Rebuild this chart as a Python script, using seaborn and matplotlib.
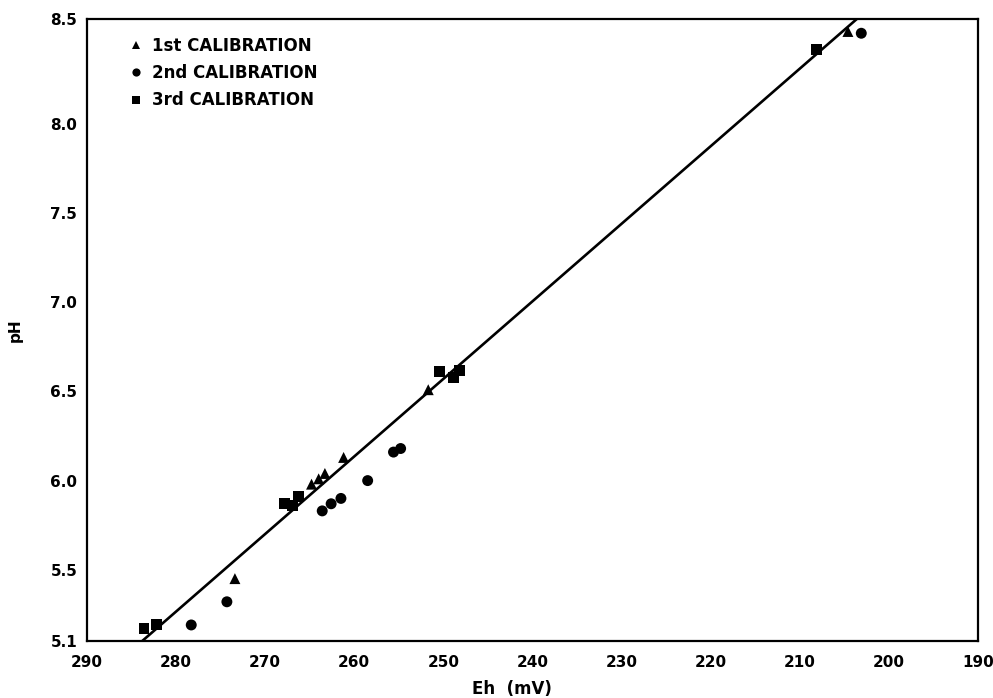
import numpy as np
import pandas as pd
import seaborn as sns
import matplotlib
matplotlib.use("Agg")
import matplotlib.pyplot as plt

# ---- data ----
cal1_eh = [273.4, 264.8, 264.0, 263.3, 261.2, 251.7, 204.6]
cal1_ph = [5.45, 5.98, 6.01, 6.04, 6.13, 6.51, 8.52]

cal2_eh = [278.3, 274.3, 263.6, 262.6, 261.5, 258.5, 255.6, 254.8, 203.1]
cal2_ph = [5.19, 5.32, 5.83, 5.87, 5.90, 6.00, 6.16, 6.18, 8.51]

cal3_eh = [283.6, 282.2, 267.8, 266.9, 266.3, 250.4, 248.9, 248.2, 208.1]
cal3_ph = [5.17, 5.19, 5.87, 5.86, 5.91, 6.61, 6.58, 6.62, 8.42]

labels = ["1st CALIBRATION", "2nd CALIBRATION", "3rd CALIBRATION"]

# fitted line end points (Eh, pH)
line_eh = [283.8, 203.6]
line_ph = [5.10, 8.59]

x_ticks = [290, 280, 270, 260, 250, 240, 230, 220, 210, 200, 190]
y_ticks = [5.1, 5.5, 6.0, 6.5, 7.0, 7.5, 8.0, 8.59]
y_ticklabels = ["5.1", "5.5", "6.0", "6.5", "7.0", "7.5", "8.0", "8.5"]

df = pd.DataFrame({
    "Eh": cal1_eh + cal2_eh + cal3_eh,
    "pH": cal1_ph + cal2_ph + cal3_ph,
    "cal": [labels[0]] * len(cal1_eh) + [labels[1]] * len(cal2_eh) + [labels[2]] * len(cal3_eh),
})

sns.set_style("white")
plt.rcParams["font.family"] = ["DejaVu Sans"]
plt.rcParams["font.weight"] = "bold"
for k in ["text.color", "axes.labelcolor", "xtick.color", "ytick.color", "axes.edgecolor"]:
    plt.rcParams[k] = "black"

fig = plt.figure(figsize=(9.93, 6.98), dpi=100)
ax = fig.add_axes([87 / 993, 1 - 641 / 698, (978 - 87) / 993, (641 - 19) / 698])

sns.lineplot(x=line_eh, y=line_ph, color="black", linewidth=1.9, ax=ax, zorder=3)
sns.scatterplot(data=df, x="Eh", y="pH", style="cal",
                markers={labels[0]: "^", labels[1]: "o", labels[2]: "s"},
                color="black", s=62, edgecolor="black", linewidth=0, ax=ax,
                zorder=4, legend=True)

ax.set_xlim(290, 190)
ax.set_ylim(5.1, 8.59)
ax.set_xticks(x_ticks)
ax.set_xticklabels([str(t) for t in x_ticks], fontsize=11, fontweight="bold")
ax.set_yticks(y_ticks)
ax.set_yticklabels(y_ticklabels, fontsize=11, fontweight="bold")
ax.tick_params(axis="x", direction="in", length=11, width=1.3, pad=10)
ax.tick_params(axis="y", direction="in", length=13, width=1.3, pad=7)
for s in ax.spines.values():
    s.set_color("black")
    s.set_linewidth(1.6)

ax.set_xlabel("Eh  (mV)", fontsize=12, fontweight="bold")
ax.xaxis.set_label_coords(0.477, -0.063)
ax.set_ylabel("pH", fontsize=11, fontweight="bold", labelpad=20)

handles, labs = ax.get_legend_handles_labels()
ax.legend(handles, labs, loc="upper left", bbox_to_anchor=(0.033, 0.995),
          frameon=False, markerscale=0.75, handlelength=0.5, handletextpad=0.75,
          labelspacing=0.55, prop={"weight": "bold", "size": 12})

fig.savefig("out.png", dpi=100)
